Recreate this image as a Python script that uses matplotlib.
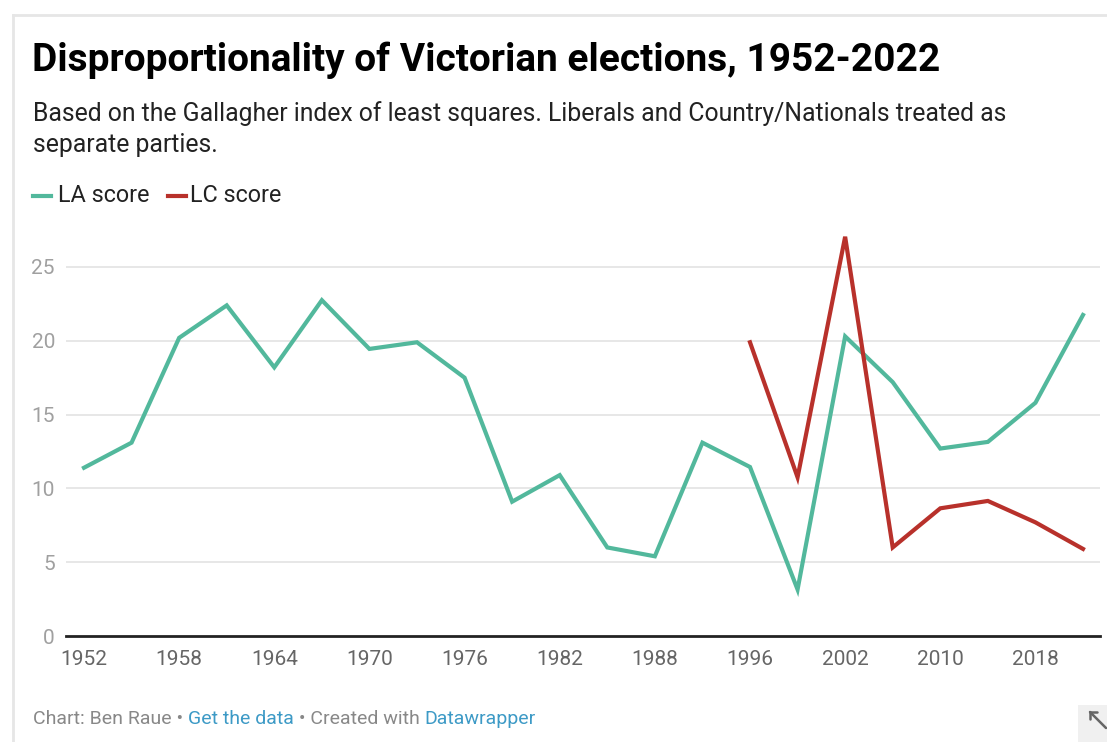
import matplotlib
matplotlib.use("Agg")
import matplotlib.pyplot as plt
from matplotlib.patches import Rectangle
from matplotlib.lines import Line2D
import numpy as np

years = [1952, 1955, 1958, 1961, 1964, 1967, 1970, 1973, 1976, 1979, 1982,
         1985, 1988, 1992, 1996, 1999, 2002, 2006, 2010, 2014, 2018, 2022]
la_score = [11.4, 13.1, 20.2, 22.4, 18.2, 22.75, 19.45, 19.9, 17.5, 9.1, 10.9,
            6.0, 5.4, 13.1, 11.45, 3.15, 20.3, 17.2, 12.7, 13.15, 15.8, 21.75]
lc_years = [1996, 1999, 2002, 2006, 2010, 2014, 2018, 2022]
lc_score = [19.9, 10.75, 27.05, 6.0, 8.65, 9.15, 7.7, 5.9]
x_tick_labels = ["1952", "1958", "1964", "1970", "1976", "1982", "1988",
                 "1996", "2002", "2010", "2018"]
y_ticks = [0, 5, 10, 15, 20, 25]

LA_COLOR = "#52b89c"
LC_COLOR = "#b8312b"

plt.rcParams['font.family'] = ['Roboto', 'DejaVu Sans']

W, H = 1107, 742
fig = plt.figure(figsize=(W / 100, H / 100), dpi=100)
fig.patch.set_facecolor("white")

def px(x, y):
    return x / W, 1 - y / H

# axes placement
ax_left, ax_right = 66, 1100
ax_top, ax_bottom = 230, 636
ax = fig.add_axes([ax_left / W, 1 - ax_bottom / H, (ax_right - ax_left) / W,
                   (ax_bottom - ax_top) / H])

idx = {y: i for i, y in enumerate(years)}
x_la = [idx[y] for y in years]
x_lc = [idx[y] for y in lc_years]

ax.plot(x_la, la_score, color=LA_COLOR, lw=3.0, solid_joinstyle="miter", zorder=3)
ax.plot(x_lc, lc_score, color=LC_COLOR, lw=3.0, solid_joinstyle="miter", zorder=3)

step = (1083 - 84) / 21
ax.set_xlim(-(84 - ax_left) / step, 21 + (ax_right - 1083) / step)
ax.set_ylim(0, (ax_bottom - ax_top) / 14.76)

for yt in y_ticks[1:]:
    ax.axhline(yt, color="#e3e3e3", lw=1.2, zorder=1)
ax.axhline(0, color="#222222", lw=2.0, zorder=4, clip_on=False)

for s in ax.spines.values():
    s.set_visible(False)

ax.set_yticks(y_ticks)
ax.set_yticklabels([str(v) for v in y_ticks])
ax.tick_params(axis="y", length=0, pad=8, labelsize=15, labelcolor="#a0a0a0")
ax.set_xticks([idx[int(t)] for t in x_tick_labels])
ax.set_xticklabels(x_tick_labels)
ax.tick_params(axis="x", length=0, pad=10, labelsize=15, labelcolor="#666666")

# Border of the embed frame
fig.add_artist(Line2D([13 / W, 1], [1 - 15 / H, 1 - 15 / H], color="#e6e6e6", lw=2))
fig.add_artist(Line2D([13 / W, 13 / W], [1 - 15 / H, 0], color="#e6e6e6", lw=2))

# Title & subtitle
fig.text(*px(32, 60), "Disproportionality of Victorian elections, 1952-2022",
         fontsize=28, fontweight="bold", color="#000000", va="center", ha="left")
fig.text(*px(33, 114), "Based on the Gallagher index of least squares. Liberals and Country/Nationals treated as",
         fontsize=17.8, color="#222222", va="center", ha="left")
fig.text(*px(33, 145), "separate parties.",
         fontsize=17.8, color="#222222", va="center", ha="left")

# Legend
fig.add_artist(Line2D([33 / W, 51 / W], [1 - 196 / H] * 2, color=LA_COLOR, lw=3))
fig.text(*px(58, 196), "LA score", fontsize=16.8, color="#222222", va="center", ha="left")
fig.add_artist(Line2D([168 / W, 186 / W], [1 - 196 / H] * 2, color=LC_COLOR, lw=3))
fig.text(*px(190, 196), "LC score", fontsize=16.8, color="#222222", va="center", ha="left")

# Footer
fy = 1 - 719 / H
parts = [("Chart: Ben Raue • ", "#888888"), ("Get the data", "#3d9ac6"),
         (" • Created with ", "#888888"), ("Datawrapper", "#3d9ac6")]
fig.canvas.draw()
renderer = fig.canvas.get_renderer()
xcur = 33 / W
for txt, col in parts:
    t = fig.text(xcur, fy, txt, fontsize=14, color=col, va="center", ha="left")
    bb = t.get_window_extent(renderer=renderer)
    xcur += bb.width / W

# Resize icon (drawn as simple strokes)
fig.add_artist(Rectangle((1078 / W, 0), (W - 1078) / W, 37 / H,
                         transform=fig.transFigure, facecolor="#f0f0f0", edgecolor="none"))
def seg(x0, y0, x1, y1):
    a, b = px(x0, y0)
    c, d = px(x1, y1)
    fig.add_artist(Line2D([a, c], [b, d], color="#666666", lw=1.8,
                          solid_capstyle="round"))
seg(1090, 712, 1106, 728)
seg(1090, 712, 1090, 719)
seg(1090, 712, 1097, 712)

fig.savefig("out.png", dpi=100, facecolor="white")
